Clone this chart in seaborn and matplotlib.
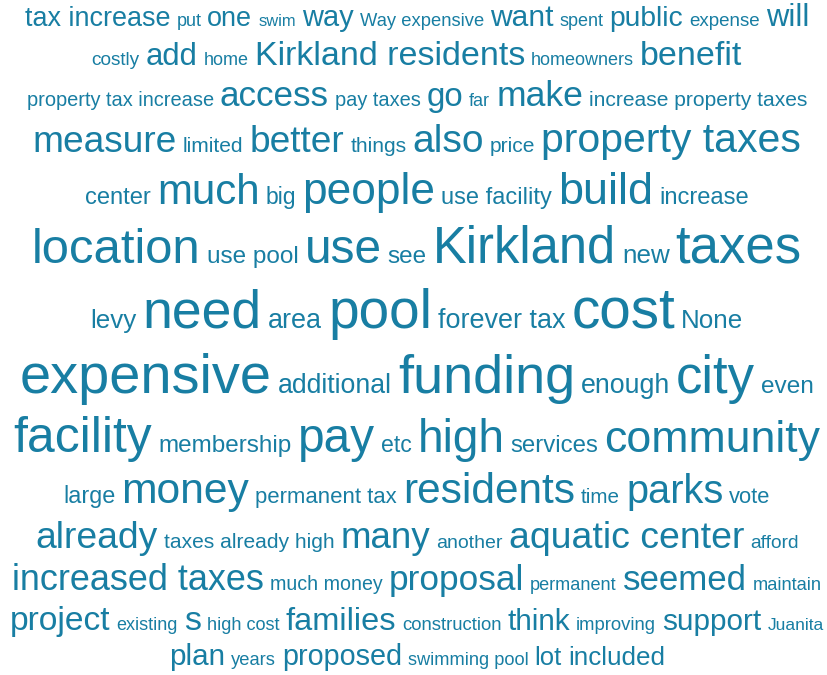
import matplotlib
matplotlib.use("Agg")
import matplotlib.pyplot as plt
import seaborn as sns

# ---- data: words per line of the cloud and their weights (relative frequency) ----
line1_words = ["tax increase", "put", "one", "swim", "way", "Way expensive", "want", "spent", "public", "expense", "will"]
line1_freq = [27, 18, 27, 16.5, 29, 18.4, 30, 18, 28.3, 18.8, 31]
line2_words = ["costly", "add", "home", "Kirkland residents", "homeowners", "benefit"]
line2_freq = [19, 31, 18, 34, 18, 34]
line3_words = ["property tax increase", "access", "pay taxes", "go", "far", "make", "increase property taxes"]
line3_freq = [20, 35, 20, 33, 18, 35.5, 21]
line4_words = ["measure", "limited", "better", "things", "also", "price", "property taxes"]
line4_freq = [37, 21, 37, 21, 39, 21, 41]
line5_words = ["center", "much", "big", "people", "use facility", "build", "increase"]
line5_freq = [23.7, 42, 23, 44.3, 23.6, 45, 23.8]
line6_words = ["location", "use pool", "use", "see", "Kirkland", "new", "taxes"]
line6_freq = [49, 24.3, 47.8, 24.2, 50.7, 26, 52.7]
line7_words = ["levy", "need", "area", "pool", "forever tax", "cost", "None"]
line7_freq = [26, 53.5, 27, 55, 27, 56.7, 26]
line8_words = ["expensive", "additional", "funding", "enough", "city", "even"]
line8_freq = [56, 26.6, 54, 26.7, 52.7, 24.4]
line9_words = ["facility", "membership", "pay", "etc", "high", "services", "community"]
line9_freq = [49.7, 24.2, 47.8, 23, 46, 24, 44.7]
line10_words = ["large", "money", "permanent tax", "residents", "time", "parks", "vote"]
line10_freq = [23.4, 42.6, 22.2, 42.4, 20.6, 39.7, 22]
line11_words = ["already", "taxes already high", "many", "another", "aquatic center", "afford"]
line11_freq = [37.2, 21, 36.8, 19.5, 37.4, 19.2]
line12_words = ["increased taxes", "much money", "proposal", "permanent", "seemed", "maintain"]
line12_freq = [36, 19.6, 35.2, 18.2, 34.9, 18.3]
line13_words = ["project", "existing", "s", "high cost", "families", "construction", "think", "improving", "support", "Juanita"]
line13_freq = [33.6, 18, 34, 18.2, 32.5, 18.5, 29.8, 18.5, 29.7, 17.4]
line14_words = ["plan", "years", "proposed", "swimming pool", "lot", "included"]
line14_freq = [29.6, 18.4, 28.8, 18.3, 25.6, 26]

lines_words = [line1_words, line2_words, line3_words, line4_words, line5_words, line6_words, line7_words,
               line8_words, line9_words, line10_words, line11_words, line12_words, line13_words, line14_words]
lines_freq = [line1_freq, line2_freq, line3_freq, line4_freq, line5_freq, line6_freq, line7_freq,
              line8_freq, line9_freq, line10_freq, line11_freq, line12_freq, line13_freq, line14_freq]

# ---- style ----
sns.set_theme(style="white")
plt.rcParams["font.family"] = ["Liberation Sans", "DejaVu Sans"]
COLOR = "#187ea3"
W, H, DPI = 828, 675, 100
PX_PER_FREQ = 1.0          # font pixel size per unit of weight
GAP = 6                    # px between words
DESC_FACTOR = 0.24         # share of the previous line's largest size below its baseline
ASC_FACTOR = 0.92          # share of the current line's largest size above its baseline
CENTER_X = 417
FIRST_BASELINE = 26.5

fig = plt.figure(figsize=(W / DPI, H / DPI), dpi=DPI)
ax = fig.add_axes([0, 0, 1, 1])
ax.set_xlim(0, W)
ax.set_ylim(H, 0)
ax.set_axis_off()
sns.despine(ax=ax, left=True, bottom=True)

renderer = fig.canvas.get_renderer()

baseline = FIRST_BASELINE
prev_max = None
for words, freqs in zip(lines_words, lines_freq):
    sizes_px = [f * PX_PER_FREQ for f in freqs]
    cur_max = max(sizes_px)
    if prev_max is not None:
        baseline += DESC_FACTOR * prev_max + ASC_FACTOR * cur_max
    texts = []
    widths = []
    for w_, s in zip(words, sizes_px):
        t = ax.text(0, baseline, w_, fontsize=s * 72 / DPI, color=COLOR,
                    ha="left", va="baseline")
        bb = t.get_window_extent(renderer=renderer)
        texts.append(t)
        widths.append(bb.width)
    total = sum(widths) + GAP * (len(widths) - 1)
    x = CENTER_X - total / 2
    for t, wd in zip(texts, widths):
        t.set_x(x)
        x += wd + GAP
    prev_max = cur_max

fig.savefig("out.png", dpi=DPI, facecolor="white")
